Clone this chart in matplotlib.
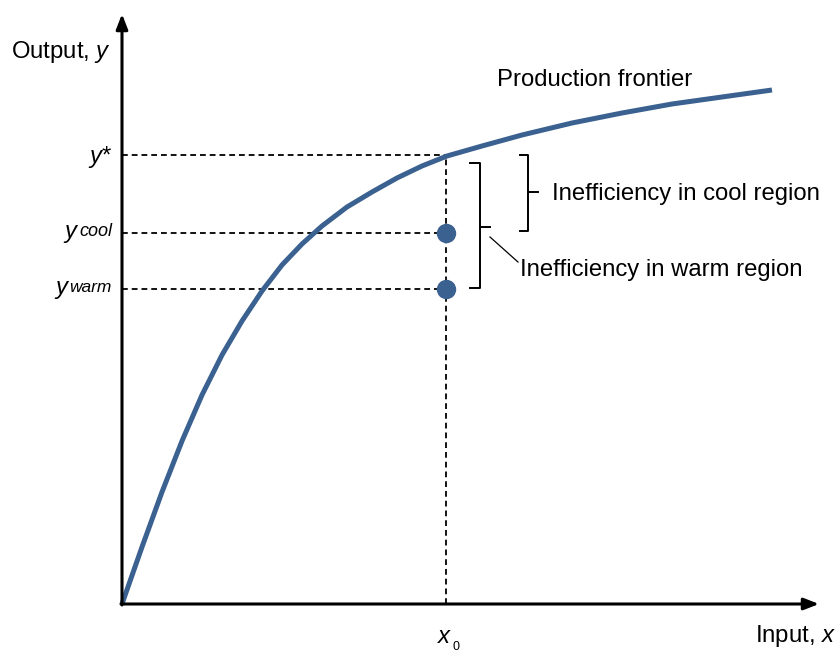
import matplotlib
matplotlib.use("Agg")
import matplotlib.pyplot as plt

plt.rcParams['font.family'] = ['Liberation Sans', 'DejaVu Sans']
plt.rcParams['mathtext.fontset'] = 'custom'
plt.rcParams['mathtext.rm'] = 'Liberation Sans'
plt.rcParams['mathtext.it'] = 'Liberation Sans:italic'

# Production frontier (input x, output y)
frontier_x = [0, 20, 40, 60, 80, 100, 120, 140, 160, 180, 200, 225, 250, 275,
              300, 325, 360, 400, 450, 500, 550, 600, 650]
frontier_y = [0, 57, 112, 163, 209, 249, 283, 313, 339, 360, 378, 397, 412, 426,
              438, 448, 458, 469, 481, 491, 500, 507, 514]

x0 = 324
y_star = 449
y_cool = 371
y_warm = 315
points_y = [y_cool, y_warm]

blue = '#3a6190'
FS = 17.2

fig = plt.figure(figsize=(8.36, 6.52), dpi=100)
ax = fig.add_axes([0, 0, 1, 1])
ax.set_xlim(-122, 714)
ax.set_ylim(-48, 604)
ax.axis('off')

# axes arrows
ax.annotate('', xy=(0, 590), xytext=(0, -1),
            arrowprops=dict(arrowstyle='-|>,head_length=0.9,head_width=0.35',
                            lw=2.2, color='black', shrinkA=0, shrinkB=0))
ax.annotate('', xy=(697, 0), xytext=(-1, 0),
            arrowprops=dict(arrowstyle='-|>,head_length=0.9,head_width=0.35',
                            lw=2.2, color='black', shrinkA=0, shrinkB=0))

# dashed guides
dash = dict(color='black', lw=1.3, ls=(0, (3.2, 2.2)))
ax.plot([0, x0], [y_star, y_star], **dash)
ax.plot([0, x0], [y_cool, y_cool], **dash)
ax.plot([0, x0], [y_warm, y_warm], **dash)
ax.plot([x0, x0], [0, y_star], **dash)

# frontier
ax.plot(frontier_x, frontier_y, color=blue, lw=3.6, solid_capstyle='butt',
        solid_joinstyle='round')

# points
ax.plot([x0] * len(points_y), points_y, 'o', color=blue, ms=14, mec='none')

# brackets
def bracket(xl, xr, top, bot, tipx, tipy):
    ax.plot([xl, xr, xr, xl], [top, top, bot, bot], color='black', lw=1.4,
            solid_joinstyle='round')
    ax.plot([xr, tipx], [tipy, tipy], color='black', lw=1.4)

bracket(398, 406, 449, 373, 416, 412)
bracket(348, 358, 441, 316, 368, 377)
ax.plot([368, 396], [367, 342], color='black', lw=0.9)

# texts
ax.text(430, 410, 'Inefficiency in cool region', fontsize=FS, va='center', ha='left')
ax.text(398, 334, 'Inefficiency in warm region', fontsize=FS, va='center', ha='left')
ax.text(375, 524, 'Production frontier', fontsize=FS, va='center', ha='left')
ax.text(-11, 552, 'Output, $y$', fontsize=FS, va='center', ha='right')
ax.text(714, -32, 'Input, $x$', fontsize=FS, va='center', ha='right')
ax.text(x0 - 1, -33, '$x$', fontsize=FS, va='center', ha='center')
ax.text(x0 + 10, -43, '0', fontsize=9, va='center', ha='center')

ax.text(-10, y_star - 2, '$y$*', fontsize=FS, va='center', ha='right')
ax.text(-42, y_cool - 1, '$y$', fontsize=FS, va='center', ha='right')
ax.text(-10, y_cool + 1, 'cool', fontsize=13, va='center', ha='right', style='italic')
ax.text(-51, y_warm - 1, '$y$', fontsize=FS, va='center', ha='right')
ax.text(-10, y_warm + 1, 'warm', fontsize=12.5, va='center', ha='right', style='italic')

fig.savefig('out.png', dpi=100)
